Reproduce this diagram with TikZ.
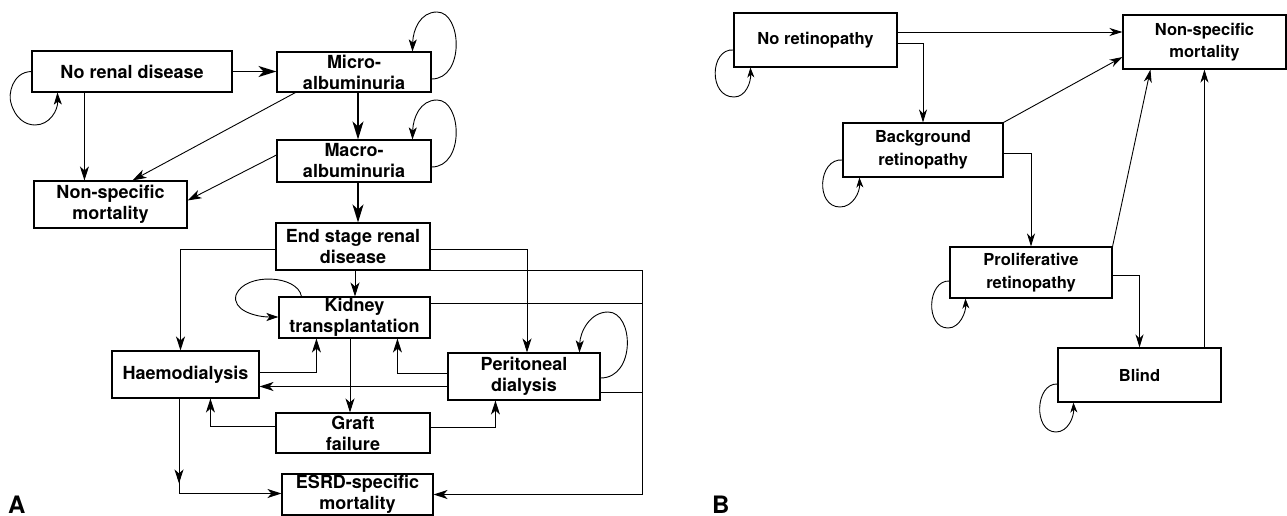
\documentclass[tikz,border=0pt]{standalone}
\usepackage{fontspec}
\setmainfont{TeX Gyre Heros}
\usetikzlibrary{arrows.meta,calc,decorations.markings}
\begin{document}
\begin{tikzpicture}[x=1pt,y=-1pt,
  boxA/.style={draw,line width=1.1pt,align=center,inner sep=0pt,
    font=\fontsize{18}{21}\selectfont\bfseries},
  boxB/.style={draw,line width=1.1pt,align=center,inner sep=0pt,
    font=\fontsize{16.5}{22.5}\selectfont\bfseries},
  arr/.style={line width=0.9pt,-{Stealth[length=14pt,width=9pt,inset=4pt]}},
  thickarr/.style={line width=1.8pt,-{Stealth[length=18pt,width=11pt,inset=5pt]}},
  looparr/.style={line width=0.9pt,-{Stealth[length=12pt,width=8pt,inset=3pt]}},
  barr/.style={line width=0.9pt,-{Stealth[length=13pt,width=8pt,inset=4pt]}},
  bloop/.style={line width=0.9pt,-{Stealth[length=10pt,width=7pt,inset=3pt]}},
  plain/.style={line width=0.9pt},
  panel/.style={font=\fontsize{24}{24}\selectfont\bfseries,inner sep=0pt,anchor=base west}
]
\useasboundingbox (0,0) rectangle (1287,516);

% ---------------- Panel A ----------------
\node[boxA,minimum width=200pt,minimum height=41pt] (nrd) at (132,71.5) {No renal disease};
\node[boxA,minimum width=154pt,minimum height=40pt] (mic) at (354,72) {Micro-\\albuminuria};
\node[boxA,minimum width=154pt,minimum height=42pt] (mac) at (354,161) {Macro-\\albuminuria};
\node[boxA,minimum width=153pt,minimum height=47pt] (nsA) at (110.5,204.5) {Non-specific\\mortality};
\node[boxA,minimum width=154pt,minimum height=47pt] (esrd) at (353,246.5) {End stage renal\\disease};
\node[boxA,minimum width=151pt,minimum height=41pt] (kt) at (354.5,317.5) {Kidney\\transplantation};
\node[boxA,minimum width=147pt,minimum height=47pt] (hd) at (185.5,374.5) {Haemodialysis};
\node[boxA,minimum width=152pt,minimum height=47pt] (pd) at (524,376.5) {Peritoneal\\dialysis};
\node[boxA,minimum width=154pt,minimum height=40pt] (gf) at (353,433) {Graft\\failure};
\node[boxA,minimum width=151pt,minimum height=41pt] (esm) at (357.5,494.5) {ESRD-specific\\mortality};
\node[panel] (labA) at (8,513) {A};
\coordinate (bus) at (642,0);

\draw[thickarr] (nrd.east) -- (nrd.east -| mic.west);
\draw[looparr] (nrd.west) .. controls (12,72) and (8,95) .. (11,103)
   .. controls (15,118) and (25,125) .. (35,125)
   .. controls (50,125) and (58,110) .. ($(nrd.south west)+(26,0)$);
\draw[arr] ($(nrd.south west)+(53,0)$) coordinate (t1) -- (t1 |- nsA.north);
\draw[arr] ($(mic.south west)+(19,0)$) -- ($(nsA.north west)+(99,0)$);
\draw[arr] ($(mac.west)+(0,-6)$) -- ($(nsA.east)+(0,-4)$);
\draw[thickarr] ($(mic.south)+(4,0)$) coordinate (t2) -- (t2 |- mac.north);
\draw[looparr] ($(mic.east)+(0,7)$) .. controls (465,79) and (462,12) .. (437,12)
   .. controls (420,12) and (413,30) .. ($(mic.north west)+(136,0)$);
\draw[looparr] ($(mac.east)+(0,6)$) .. controls (465,167) and (462,100) .. (437,100)
   .. controls (420,100) and (413,118) .. ($(mac.north west)+(136,0)$);
\draw[thickarr] ($(mac.south)+(4,0)$) coordinate (t3) -- (t3 |- esrd.north);
\draw[arr] ($(esrd.west)+(0,3)$) -| ($(hd.north)+(-5,0)$);
\draw[arr] ($(esrd.south)+(2,0)$) coordinate (t4) -- (t4 |- kt.north);
\draw[arr] ($(esrd.east)+(0,3)$) -| ($(pd.north)+(3,0)$);
\draw[arr] (esrd.south east) -- (esrd.south east -| bus) |- (esm.east);
\draw[plain] ($(kt.north east)+(0,7)$) coordinate (t5) -- (t5 -| bus);
\draw[plain] ($(pd.east)+(0,16)$) coordinate (t6) -- (t6 -| bus);
\draw[looparr] ($(kt.north west)+(23,0)$) .. controls (298,275) and (245,272) .. (236,295)
   .. controls (232,310) and (255,317) .. ($(kt.west)+(0,-0.5)$);
\draw[arr] ($(hd.east)+(0,-2.5)$) -| ($(kt.south west)+(38,0)$);
\draw[arr] ($(pd.west)+(0,10)$) coordinate (t7) -- (t7 -| hd.east);
\draw[arr] ($(pd.west)+(0,-3.5)$) -| ($(kt.south west)+(119,0)$);
\draw[arr] ($(kt.south)+(-4.5,0)$) coordinate (t8) -- (t8 |- gf.north);
\draw[arr] ($(gf.west)+(0,-7)$) -| ($(hd.south west)+(99,0)$);
\draw[arr] ($(gf.east)+(0,-6)$) -| ($(pd.south west)+(48,0)$);
\draw[arr,postaction={decorate},decoration={markings,
   mark=at position 0.43 with {\arrow{Stealth[length=14pt,width=9pt,inset=4pt]}}}]
   ($(hd.south)+(-6.5,0)$) |- ($(esm.west)+(0,-1)$);
\draw[looparr] ($(pd.east)+(0,1.5)$) .. controls (636,378) and (634,312) .. (608,312)
   .. controls (590,312) and (580,332) .. ($(pd.north west)+(132,0)$);

% ---------------- Panel B ----------------
\node[boxB,minimum width=163pt,minimum height=54pt] (nr) at (815.5,40) {No retinopathy};
\node[boxB,minimum width=163pt,minimum height=54pt] (nsB) at (1204.5,42) {Non-specific\\mortality};
\node[boxB,minimum width=160pt,minimum height=54pt] (bg) at (923,150) {Background\\retinopathy};
\node[boxB,minimum width=162pt,minimum height=51pt] (pr) at (1031,272.5) {Proliferative\\retinopathy};
\node[boxB,minimum width=163pt,minimum height=54pt] (bl) at (1139.5,375) {Blind};
\node[panel] (labB) at (712,513) {B};

\draw[barr] ($(nr.east)+(0,-8)$) coordinate (u1) -- (u1 -| nsB.west);
\draw[barr] ($(nr.east)+(0,3)$) -| (bg.north);
\draw[bloop] ($(nr.west)+(0,10)$) .. controls (710,48) and (708,97) .. (734,97)
   .. controls (746,97) and (751,82) .. ($(nr.south west)+(17,0)$);
\draw[barr] (bg.north east) -- ($(nsB.west)+(0,15)$);
\draw[barr] ($(bg.east)+(0,3)$) -| (pr.north);
\draw[bloop] ($(bg.west)+(0,10)$) .. controls (818,158) and (815,207) .. (840,207)
   .. controls (853,207) and (860,192) .. ($(bg.south west)+(17,0)$);
\draw[barr] (pr.north east) -- ($(nsB.south west)+(28,0)$);
\draw[barr] ($(pr.east)+(0,2.5)$) -| (bl.north);
\draw[barr] ($(bl.north west)+(147,0)$) coordinate (u2) -- (u2 |- nsB.south);
\draw[bloop] ($(pr.west)+(0,8.5)$) .. controls (927,280) and (925,328) .. (948,328)
   .. controls (960,328) and (966,312) .. ($(pr.south west)+(16,0)$);
\draw[bloop] ($(bl.west)+(0,9)$) .. controls (1035,383) and (1033,432) .. (1056,432)
   .. controls (1068,432) and (1074,417) .. ($(bl.south west)+(16,0)$);
\end{tikzpicture}
\end{document}
